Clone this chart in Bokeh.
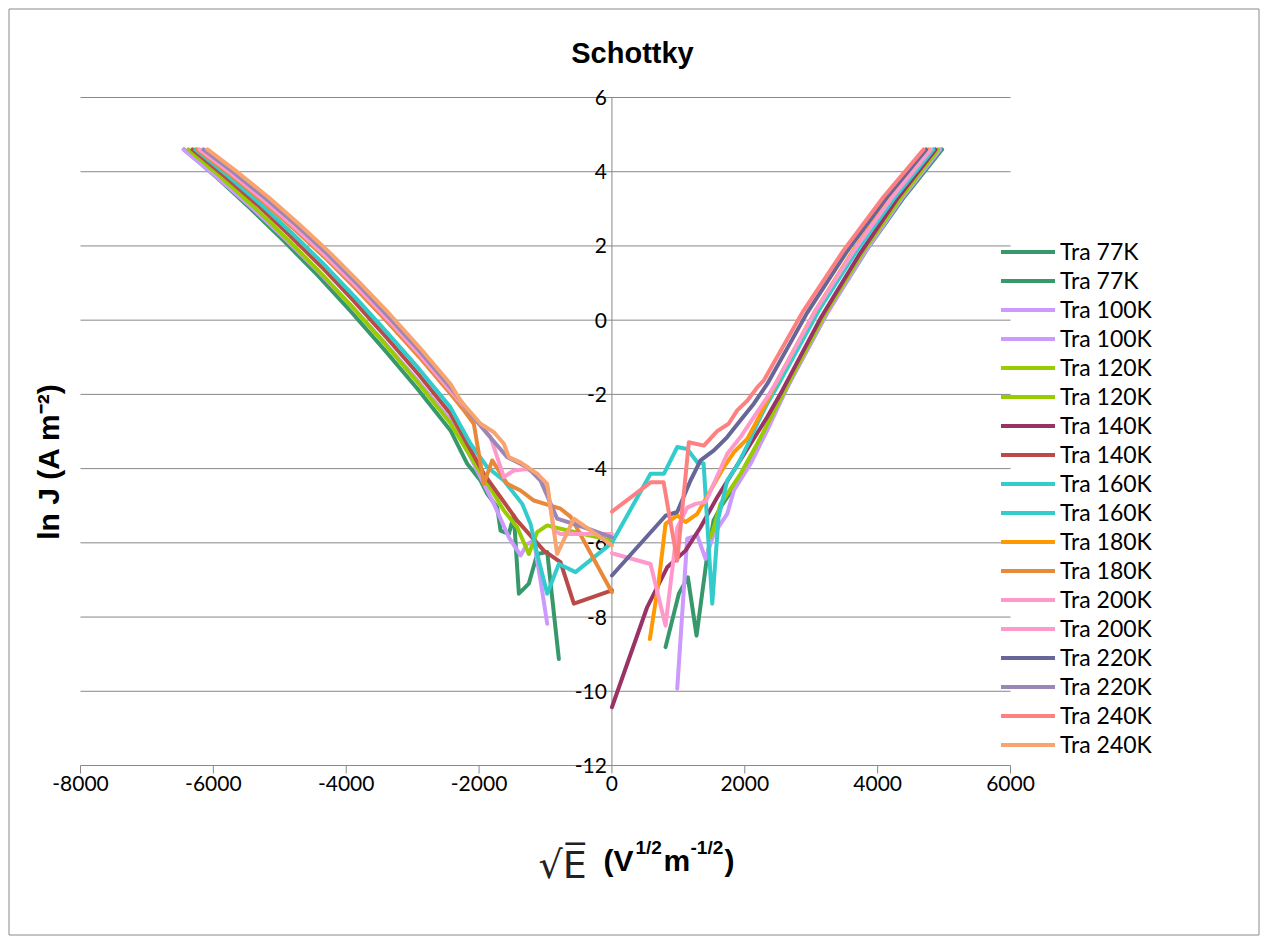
import math
from bokeh.plotting import figure
from bokeh.models import Label, Legend, LegendItem
from bokeh.core.properties import value
from bokeh.embed import file_html
from bokeh.resources import INLINE

# ---------------- data ----------------
x_ticks = [-8000, -6000, -4000, -2000, 0, 2000, 4000, 6000]
y_ticks = [-12, -10, -8, -6, -4, -2, 0, 2, 4, 6]
x_tick_labels = [str(t) for t in x_ticks]
y_tick_labels = [str(t) for t in y_ticks]

series_names = ["Tra 77K", "Tra 77K", "Tra 100K", "Tra 100K", "Tra 120K", "Tra 120K",
                "Tra 140K", "Tra 140K", "Tra 160K", "Tra 160K", "Tra 180K", "Tra 180K",
                "Tra 200K", "Tra 200K", "Tra 220K", "Tra 220K", "Tra 240K", "Tra 240K"]
series_colors = ["#37996B", "#37996B", "#CC99FF", "#CC99FF", "#99CC00", "#99CC00",
                 "#993366", "#B94A48", "#33CCCC", "#33CCCC", "#FF9900", "#E8893A",
                 "#FF99CC", "#FF99CC", "#666699", "#9A87B8", "#FF8080", "#F9A46F"]

r77_x = [807, 1007, 1143, 1274, 1424, 1530, 1650, 1800, 1990, 2200, 2450, 2689, 3259, 3830, 4400, 4970]
r77_y = [-8.81, -7.37, -6.93, -8.50, -6.48, -5.40, -5.00, -4.60, -4.05, -3.35, -2.50, -1.63, 0.26, 1.88, 3.32, 4.60]
l77_x = [-6440, -5939, -5437, -4936, -4435, -3934, -3433, -2931, -2430, -2178, -1978, -1877, -1727, -1677,
         -1552, -1477, -1401, -1251, -1125, -974, -799]
l77_y = [4.60, 3.83, 3.00, 2.13, 1.22, 0.24, -0.78, -1.84, -2.97, -3.87, -4.32, -4.68, -5.04, -5.67,
         -5.76, -5.26, -7.37, -7.10, -6.30, -6.25, -9.13]

r100_x = [983, 1133, 1284, 1409, 1535, 1736, 1835, 2087, 2338, 2614, 3196, 3777, 4358, 4940]
r100_y = [-9.93, -5.89, -5.80, -6.43, -5.76, -5.22, -4.59, -3.87, -2.97, -1.90, 0.05, 1.75, 3.27, 4.60]
l100_x = [-6450, -5948, -5445, -4943, -4440, -3938, -3435, -2933, -2430, -2129, -1928, -1777, -1552,
          -1376, -1275, -1175, -1075, -974]
l100_y = [4.60, 3.86, 3.07, 2.23, 1.35, 0.41, -0.58, -1.61, -2.70, -3.69, -4.41, -4.95, -5.85,
          -6.34, -6.03, -5.94, -7.01, -8.18]

r120_x = [1484, 1535, 1636, 1936, 2187, 2400, 2640, 3208, 3775, 4343, 4910]
r120_y = [-5.85, -5.59, -4.95, -4.14, -3.33, -2.60, -1.75, 0.17, 1.83, 3.29, 4.60]
l120_x = [-6374, -5881, -5388, -4895, -4402, -3909, -3416, -2923, -2430, -2028, -1777, -1627, -1426,
          -1251, -1125, -974, -774, 0]
l120_y = [4.60, 3.85, 3.05, 2.20, 1.31, 0.36, -0.64, -1.68, -2.78, -3.96, -4.68, -5.13, -5.58,
          -6.30, -5.71, -5.53, -5.62, -5.94]

r140_x = [0, 531, 832, 1108, 1334, 1585, 1835, 2087, 2338, 2563, 3140, 3717, 4293, 4870]
r140_y = [-10.43, -7.73, -6.66, -6.21, -5.58, -4.77, -4.05, -3.33, -2.61, -1.90, 0.05, 1.75, 3.27, 4.60]
l140_x = [-6314, -5829, -5343, -4858, -4372, -3887, -3401, -2916, -2430, -1928, -1426, -1025, -774, -573, 0]
l140_y = [4.60, 3.88, 3.12, 2.30, 1.44, 0.52, -0.45, -1.45, -2.52, -4.14, -5.40, -6.21, -6.52, -7.64, -7.28]

r160_x = [0, 581, 782, 983, 1133, 1284, 1380, 1510, 1605, 1736, 1886, 2037, 2187, 2338, 2538,
          3114, 3689, 4265, 4840]
r160_y = [-6.00, -4.14, -4.14, -3.42, -3.47, -3.83, -3.86, -7.64, -5.31, -4.32, -3.92, -3.38, -2.79,
          -2.25, -1.63, 0.26, 1.88, 3.32, 4.60]
l160_x = [-6269, -5789, -5309, -4829, -4350, -3870, -3390, -2910, -2430, -2129, -1877, -1627, -1350,
          -1225, -1125, -974, -799, -548, 0]
l160_y = [4.60, 3.90, 3.16, 2.37, 1.53, 0.63, -0.32, -1.30, -2.35, -3.33, -3.96, -4.32, -4.95,
          -5.49, -6.30, -7.37, -6.57, -6.79, -6.00]

r180_x = [571, 706, 807, 983, 1108, 1284, 1484, 1685, 1835, 2037, 2187, 2338, 2463, 3040, 3617, 4193, 4770]
r180_y = [-8.59, -7.02, -5.49, -5.26, -5.44, -5.22, -4.59, -3.96, -3.56, -3.20, -2.70, -2.17, -1.72,
          0.19, 1.84, 3.30, 4.60]
l180_x = [-6240, -5764, -5288, -4811, -4335, -3859, -3383, -2906, -2430, -2229, -2079, -1928, -1802,
          -1576, -1376, -1175, -974, -774, -620, 0]
l180_y = [4.60, 3.95, 3.25, 2.50, 1.71, 0.86, -0.04, -0.98, -1.98, -2.43, -2.79, -4.41, -3.78,
          -4.41, -4.59, -4.86, -4.97, -5.08, -5.30, -7.33]

r200_x = [0, 581, 807, 983, 1133, 1258, 1409, 1585, 1736, 1936, 2136, 2338, 2488, 3066, 3644, 4222, 4800]
r200_y = [-6.28, -6.57, -8.23, -5.60, -5.05, -4.95, -4.90, -4.20, -3.60, -3.15, -2.61, -2.08, -1.63,
          0.26, 1.88, 3.32, 4.60]
l200_x = [-6209, -5737, -5264, -4792, -4320, -3847, -3375, -2902, -2430, -2129, -1827, -1627, -1477,
          -1275, -1125, -974, -874, -774, 0]
l200_y = [4.60, 3.96, 3.27, 2.53, 1.75, 0.91, 0.02, -0.91, -1.90, -2.52, -3.15, -4.23, -4.05,
          -4.01, -4.14, -4.50, -5.67, -5.76, -5.76]

r220_x = [0, 807, 983, 1183, 1334, 1535, 1736, 1936, 2136, 2338, 2936, 3534, 4132, 4730]
r220_y = [-6.88, -5.27, -5.17, -4.32, -3.78, -3.51, -3.15, -2.70, -2.25, -1.72, 0.19, 1.84, 3.30, 4.60]
l220_x = [-6150, -5685, -5220, -4755, -4290, -3825, -3360, -2895, -2430, -2129, -1877, -1576, -1275,
          -1075, -824, -423, 0]
l220_y = [4.60, 3.97, 3.29, 2.57, 1.80, 0.97, 0.09, -0.83, -1.81, -2.52, -3.06, -3.69, -3.96,
          -4.32, -5.35, -5.58, -5.85]

r240_x = [0, 582, 778, 983, 1158, 1384, 1585, 1757, 1886, 2037, 2187, 2283, 2885, 3487, 4088, 4690]
r240_y = [-5.16, -4.37, -4.37, -6.48, -3.29, -3.38, -2.99, -2.79, -2.43, -2.17, -1.81, -1.63,
          0.26, 1.88, 3.32, 4.60]
l240_x = [-6088, -5631, -5174, -4716, -4259, -3802, -3345, -2888, -2430, -2279, -1978, -1777, -1627,
          -1552, -1376, -1125, -974, -824, -573, 0]
l240_y = [4.60, 3.98, 3.32, 2.60, 1.84, 1.02, 0.16, -0.75, -1.72, -2.17, -2.79, -3.02, -3.33,
          -3.69, -3.83, -4.14, -4.41, -6.30, -5.35, -6.07]

series_x = [r77_x, l77_x, r100_x, l100_x, r120_x, l120_x, r140_x, l140_x, r160_x, l160_x,
            r180_x, l180_x, r200_x, l200_x, r220_x, l220_x, r240_x, l240_x]
series_y = [r77_y, l77_y, r100_y, l100_y, r120_y, l120_y, r140_y, l140_y, r160_y, l160_y,
            r180_y, l180_y, r200_y, l200_y, r220_y, l220_y, r240_y, l240_y]

title_text = "Schottky"
ylabel_text = "ln J (A m\u207b\u00b2)"

# ---------------- layout (pixel box of the plot area inside the 1266x941 canvas) ----------------
W, H = 1266, 941
PL, PR, PT, PB = 80, 1010, 97, 765
X0, X1 = x_ticks[0], x_ticks[-1]
Y0, Y1 = y_ticks[0], y_ticks[-1]
sx = (X1 - X0) / (PR - PL)
sy = (Y1 - Y0) / (PB - PT)
x_start, x_end = X0 - PL * sx, X1 + (W - PR) * sx
y_start, y_end = Y0 - (H - PB) * sy, Y1 + PT * sy


def dx(px):
    return x_start + px * sx


def dy(py):
    return y_end - py * sy


GRID = "#888888"
TICK_FONT = "Lato"

p = figure(width=W, height=H, x_range=(x_start, x_end), y_range=(y_start, y_end),
           output_backend="svg", toolbar_location=None,
           min_border_left=0, min_border_right=0, min_border_top=0, min_border_bottom=0)
p.xaxis.visible = False
p.yaxis.visible = False
p.xgrid.visible = False
p.ygrid.visible = False
p.outline_line_color = None
p.background_fill_color = "white"
p.border_fill_color = "white"

# chart-area border
p.quad(left=[dx(8.5)], right=[dx(1258.5)], top=[dy(8.5)], bottom=[dy(934.5)],
       fill_color=None, line_color="#8a8a8a", line_width=1)

# horizontal gridlines and axes
p.segment(x0=[X0] * len(y_ticks), x1=[X1] * len(y_ticks), y0=y_ticks, y1=y_ticks,
          line_color=GRID, line_width=1)
p.segment(x0=[0], x1=[0], y0=[Y0], y1=[Y1], line_color=GRID, line_width=1)
p.segment(x0=x_ticks, x1=x_ticks, y0=[Y0] * len(x_ticks), y1=[Y0 - 8 * sy] * len(x_ticks),
          line_color=GRID, line_width=1)

# tick labels
p.text(x=x_ticks, y=[Y0 - 18 * sy] * len(x_ticks), text=x_tick_labels,
       text_font=value(TICK_FONT), text_font_size="21px", text_color="black",
       text_align="center", text_baseline="middle")
p.text(x=[-5 * sx] * len(y_ticks), y=y_ticks, text=y_tick_labels,
       text_font=value(TICK_FONT), text_font_size="21px", text_color="black",
       text_align="right", text_baseline="middle")

renderers = []
for xs, ys, c in zip(series_x, series_y, series_colors):
    r = p.line(xs, ys, line_color=c, line_width=4, line_join="round", line_cap="round")
    renderers.append(r)

items = [LegendItem(label=n, renderers=[r]) for n, r in zip(series_names, renderers)]
legend = Legend(items=items, location=(1001, H - 758), orientation="vertical",
                border_line_color=None, background_fill_alpha=0, padding=0, margin=0,
                spacing=1, glyph_width=54, glyph_height=27, label_height=27,
                label_standoff=5, label_text_font=TICK_FONT, label_text_font_size="23px",
                label_text_color="black")
p.add_layout(legend)

# ---------------- texts ----------------
p.add_layout(Label(x=dx(632), y=dy(52), text=title_text, text_align="center", text_baseline="middle",
                   text_font="Liberation Sans", text_font_style="bold", text_font_size="29px",
                   text_color="black"))

p.add_layout(Label(x=dx(48), y=dy(461), text=ylabel_text, angle=math.pi / 2, text_align="center",
                   text_baseline="middle", text_font="Liberation Sans", text_font_style="bold",
                   text_font_size="30px", text_color="black"))

BASE = 860
p.add_layout(Label(x=dx(538), y=dy(BASE + 4), text="\u221aE\u0305", text_align="left",
                   text_baseline="alphabetic", text_font="DejaVu Sans", text_font_size="38px",
                   text_color="#222222"))
p.add_layout(Label(x=dx(603), y=dy(BASE), text="(V", text_align="left", text_baseline="alphabetic",
                   text_font="Liberation Sans", text_font_style="bold", text_font_size="30px",
                   text_color="black"))
p.add_layout(Label(x=dx(635), y=dy(BASE - 13), text="1/2", text_align="left", text_baseline="alphabetic",
                   text_font="Liberation Sans", text_font_style="bold", text_font_size="19px",
                   text_color="black"))
p.add_layout(Label(x=dx(663), y=dy(BASE), text="m", text_align="left", text_baseline="alphabetic",
                   text_font="Liberation Sans", text_font_style="bold", text_font_size="30px",
                   text_color="black"))
p.add_layout(Label(x=dx(690), y=dy(BASE - 13), text="-1/2", text_align="left", text_baseline="alphabetic",
                   text_font="Liberation Sans", text_font_style="bold", text_font_size="19px",
                   text_color="black"))
p.add_layout(Label(x=dx(724), y=dy(BASE), text=")", text_align="left", text_baseline="alphabetic",
                   text_font="Liberation Sans", text_font_style="bold", text_font_size="30px",
                   text_color="black"))

open("out.html", "w").write(file_html(p, INLINE))
